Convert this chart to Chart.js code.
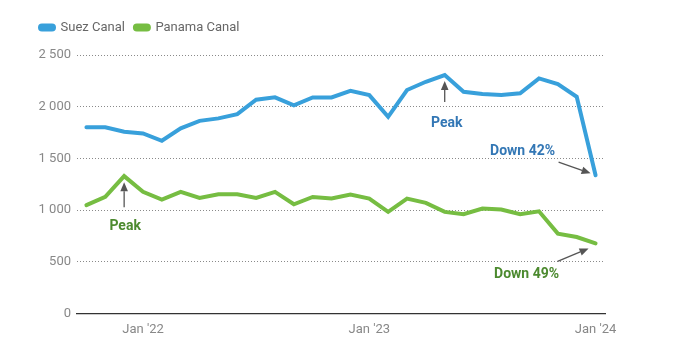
<!DOCTYPE html>
<html>
<head>
<meta charset="utf-8">
<script src="https://cdn.jsdelivr.net/npm/chart.js@4.4.1/dist/chart.umd.min.js"></script>
<style>
  html,body{margin:0;padding:0;background:#fff;}
  #wrap{width:700px;height:346px;}
</style>
</head>
<body>
<div id="wrap"><canvas id="c" width="700" height="346"></canvas></div>
<script>
// monthly, Oct '21 .. Jan '24
const months = ["Oct '21","Nov '21","Dec '21",
  "Jan '22","Feb '22","Mar '22","Apr '22","May '22","Jun '22","Jul '22","Aug '22","Sep '22","Oct '22","Nov '22","Dec '22",
  "Jan '23","Feb '23","Mar '23","Apr '23","May '23","Jun '23","Jul '23","Aug '23","Sep '23","Oct '23","Nov '23","Dec '23",
  "Jan '24"];
const suez = [1800,1800,1757,1741,1670,1790,1863,1887,1928,2067,2090,2013,2090,2090,2154,2112,1902,2161,2241,2306,2144,2122,2112,2129,2274,2219,2096,1337];
const panama = [1047,1127,1328,1176,1102,1176,1117,1153,1153,1117,1176,1056,1127,1111,1150,1111,982,1111,1069,982,959,1015,1005,959,988,772,739,677];
const yTicks = [0,500,1000,1500,2000,2500];

const BLUE='#38a0db', GREEN='#76bd42';
const BLUE_TXT='#3377b5', GREEN_TXT='#4c8a2f', ARROW='#555';

// annotation notes: which series/point, label and offsets from that point
const notes = [
  { ds:0, idx:19, text:'Peak', color:BLUE_TXT, arrow:[0,27,0,6], tx:2, ty:48 },
  { ds:0, idx:27, text:'Down 42%', color:BLUE_TXT, arrow:[-37,-13,-5,-2], tx:-73, ty:-24 },
  { ds:1, idx:2, text:'Peak', color:GREEN_TXT, arrow:[0,31,0,6], tx:1, ty:50 },
  { ds:1, idx:27, text:'Down 49%', color:GREEN_TXT, arrow:[-38,18,-7,5], tx:-69, ty:31 }
];

function arrow(ctx,x1,y1,x2,y2){
  const a=Math.atan2(y2-y1,x2-x1), L=9, W=3.8;
  ctx.strokeStyle=ARROW; ctx.fillStyle=ARROW; ctx.lineWidth=1.3;
  ctx.beginPath(); ctx.moveTo(x1,y1); ctx.lineTo(x2-Math.cos(a)*L,y2-Math.sin(a)*L); ctx.stroke();
  ctx.beginPath();
  ctx.moveTo(x2,y2);
  ctx.lineTo(x2-Math.cos(a)*L-Math.sin(a)*W, y2-Math.sin(a)*L+Math.cos(a)*W);
  ctx.lineTo(x2-Math.cos(a)*L+Math.sin(a)*W, y2-Math.sin(a)*L-Math.cos(a)*W);
  ctx.closePath(); ctx.fill();
}

const notesPlugin = {
  id:'notes',
  afterDatasetsDraw(chart){
    const ctx=chart.ctx;
    ctx.save();
    notes.forEach(n=>{
      const p=chart.getDatasetMeta(n.ds).data[n.idx];
      const [ax1,ay1,ax2,ay2]=n.arrow;
      arrow(ctx,p.x+ax1,p.y+ay1,p.x+ax2,p.y+ay2);
      ctx.fillStyle=n.color;
      ctx.font='bold 14px Roboto, "DejaVu Sans", sans-serif';
      ctx.textAlign='center'; ctx.textBaseline='middle';
      ctx.fillText(n.text,p.x+n.tx,p.y+n.ty);
    });
    ctx.restore();
  }
};

const legendGap = {
  id:'legendGap',
  beforeInit(chart){
    const fit=chart.legend.fit;
    chart.legend.fit=function(){ fit.bind(chart.legend)(); this.height+=11; };
  }
};

new Chart(document.getElementById('c'),{
  type:'line',
  data:{
    labels:months,
    datasets:[
      { label:'Suez Canal', data:suez, borderColor:BLUE, backgroundColor:BLUE, borderWidth:4, pointRadius:0, tension:0, borderCapStyle:'round' },
      { label:'Panama Canal', data:panama, borderColor:GREEN, backgroundColor:GREEN, borderWidth:4, pointRadius:0, tension:0, borderCapStyle:'round' }
    ]
  },
  options:{
    responsive:false, animation:false,
    layout:{ padding:{ left:30, right:95, top:11, bottom:7 } },
    plugins:{
      legend:{ align:'start', labels:{ boxWidth:14, boxHeight:4, useBorderRadius:true, borderRadius:2, color:'#666', padding:10, font:{ family:'Roboto', size:13 } } },
      tooltip:{ enabled:false }
    },
    scales:{
      x:{
        offset:true,
        grid:{ display:false },
        border:{ display:true, color:'#333', width:1.2 },
        ticks:{ autoSkip:false, maxRotation:0, color:'#888', padding:1, font:{ family:'Roboto', size:13 },
          callback:(v,i)=> months[i].startsWith('Jan') ? months[i] : null }
      },
      y:{
        min:0, max:2500,
        afterFit:s=>{ s.width=47; },
        afterBuildTicks:s=>{ s.ticks=yTicks.map(v=>({value:v})); },
        border:{ display:false, dash:[1,2] },
        grid:{ color:'#8a8a8a', lineWidth:1, drawTicks:false },
        ticks:{ color:'#888', padding:6, font:{ family:'Roboto', size:13 },
          callback:v=> String(v).replace(/\B(?=(\d{3})+(?!\d))/g,' ') }
      }
    }
  },
  plugins:[notesPlugin, legendGap]
});
</script>
</body>
</html>
